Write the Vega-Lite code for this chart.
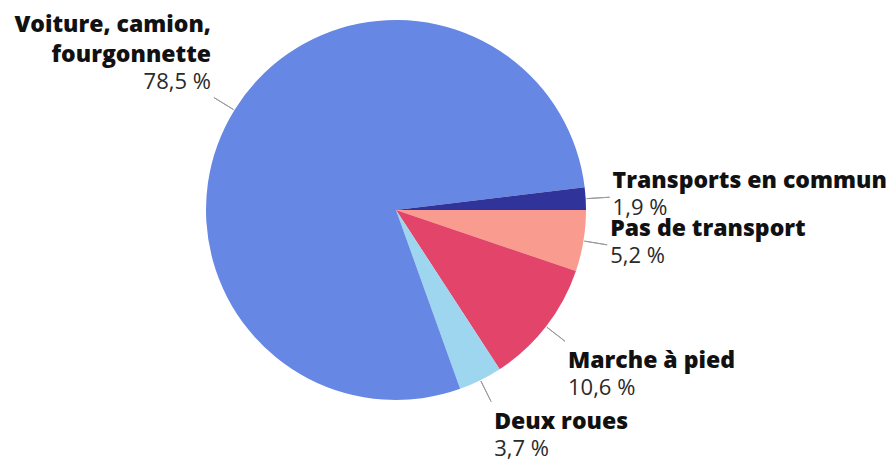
{
  "$schema": "https://vega.github.io/schema/vega-lite/v6.json",
  "autosize": {"type": "none"},
  "padding": {"left": 0, "top": 0, "right": 102, "bottom": 41},
  "width": 792,
  "height": 420,
  "background": "white",
  "config": {"view": {"stroke": null}},
  "data": {
    "values": [
      {"nom": "Pas de transport", "v": 5.2},
      {"nom": "Marche à pied", "v": 10.6},
      {"nom": "Deux roues", "v": 3.7},
      {"nom": "Voiture, camion,\nfourgonnette", "v": 78.5},
      {"nom": "Transports en commun", "v": 1.9}
    ]
  },
  "transform": [
    {"window": [{"op": "row_number", "as": "i"}]},
    {"stack": "v", "groupby": [], "sort": [{"field": "i"}], "as": ["s0", "s1"]},
    {"calculate": "(datum.s0 + datum.s1) / 2", "as": "mid"},
    {"calculate": "replace(format(datum.v, '.1f'), '.', ',') + ' %'", "as": "lab"}
  ],
  "layer": [
    {
      "mark": {"type": "arc", "radius": 190},
      "encoding": {
        "theta": {"field": "s0", "type": "quantitative", "scale": {"domain": [0, 99.9], "range": [1.5707963, 7.8539816]}},
        "theta2": {"field": "s1"},
        "color": {
          "field": "nom", "type": "nominal", "legend": null,
          "scale": {
            "domain": ["Voiture, camion,\nfourgonnette", "Transports en commun", "Pas de transport", "Marche à pied", "Deux roues"],
            "range": ["#6687e3", "#30349a", "#f99b8f", "#e2446a", "#9dd6ee"]
          }
        }
      }
    },
    {
      "mark": {"type": "arc", "radius": 214, "radius2": 191, "filled": false, "stroke": "#9a9a9a", "strokeWidth": 1},
      "encoding": {
        "theta": {"field": "mid", "type": "quantitative"},
        "theta2": {"field": "mid"}
      }
    },
    {
      "transform": [{"filter": {"field": "nom", "oneOf": ["Transports en commun", "Pas de transport"]}}],
      "mark": {"type": "text", "radius": 214, "align": "left", "baseline": "alphabetic", "dx": 3, "dy": -9, "font": "Open Sans", "fontWeight": 800, "fontSize": 23, "color": "#111111"},
      "encoding": {"theta": {"field": "mid", "type": "quantitative"}, "text": {"field": "nom"}}
    },
    {
      "transform": [{"filter": {"field": "nom", "oneOf": ["Transports en commun", "Pas de transport"]}}],
      "mark": {"type": "text", "radius": 214, "align": "left", "baseline": "alphabetic", "dx": 3, "dy": 18, "font": "Open Sans", "fontSize": 22, "color": "#2a2a2a"},
      "encoding": {"theta": {"field": "mid", "type": "quantitative"}, "text": {"field": "lab"}}
    },
    {
      "transform": [{"filter": {"field": "nom", "oneOf": ["Marche à pied", "Deux roues"]}}],
      "mark": {"type": "text", "radius": 214, "align": "left", "baseline": "alphabetic", "dx": 3, "dy": 27, "font": "Open Sans", "fontWeight": 800, "fontSize": 23, "color": "#111111"},
      "encoding": {"theta": {"field": "mid", "type": "quantitative"}, "text": {"field": "nom"}}
    },
    {
      "transform": [{"filter": {"field": "nom", "oneOf": ["Marche à pied", "Deux roues"]}}],
      "mark": {"type": "text", "radius": 214, "align": "left", "baseline": "alphabetic", "dx": 3, "dy": 54, "font": "Open Sans", "fontSize": 22, "color": "#2a2a2a"},
      "encoding": {"theta": {"field": "mid", "type": "quantitative"}, "text": {"field": "lab"}}
    },
    {
      "transform": [{"filter": {"field": "v", "gt": 50}}],
      "mark": {"type": "text", "radius": 214, "align": "right", "baseline": "alphabetic", "dx": -3, "dy": -66, "lineBreak": "\n", "lineHeight": 30, "font": "Open Sans", "fontWeight": 800, "fontSize": 23, "color": "#111111"},
      "encoding": {"theta": {"field": "mid", "type": "quantitative"}, "text": {"field": "nom"}}
    },
    {
      "transform": [{"filter": {"field": "v", "gt": 50}}],
      "mark": {"type": "text", "radius": 214, "align": "right", "baseline": "alphabetic", "dx": -3, "dy": -9, "font": "Open Sans", "fontSize": 22, "color": "#2a2a2a"},
      "encoding": {"theta": {"field": "mid", "type": "quantitative"}, "text": {"field": "lab"}}
    }
  ]
}
